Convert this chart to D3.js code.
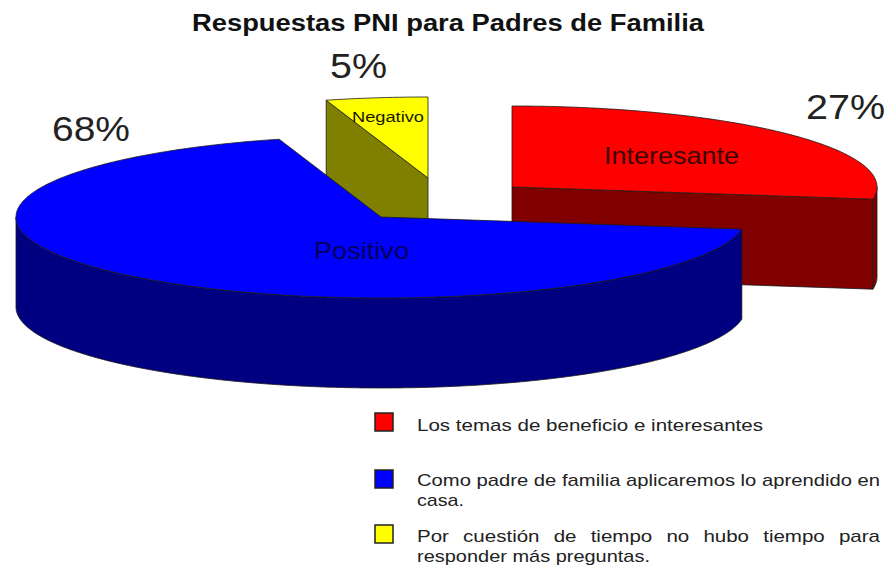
<!DOCTYPE html>
<html lang="es">
<head>
	<meta charset="utf-8">
	<title>Respuestas PNI</title>
	<script src="https://d3js.org/d3.v7.min.js"></script>
	<style type="text/css">
	body { margin: 0; background: #fff; }
	svg { display: block; font-family: "Liberation Sans", Arial, sans-serif; }
	</style>
</head>
<body>
	<svg id="chart" width="890" height="569"></svg>
	<script type="text/javascript">
	// data (order is clockwise from 12 o'clock)
	const categories = ["Interesante", "Positivo", "Negativo"]
	const values = [27.4, 68.1, 4.5]
	const percentLabels = ["27%", "68%", "5%"]
	const topColors = ["#ff0000", "#0000ff", "#ffff00"]
	const sideColors = ["#800000", "#000080", "#808000"]
	const labelColors = ["#3a0505", "#00005a", "#1a1a00"]
	const legendLines = [
		["Los temas de beneficio e interesantes"],
		["Como padre de familia aplicaremos lo aprendido en", "casa."],
		["Por cuestión de tiempo no hubo tiempo para", "responder más preguntas."]
	]

	// 3d look: ellipse radii + height of the wall
	const rx = 365, ry = 81, depth = 90
	const stroke = "#1a1a1a"

	const svg = d3.select("#chart")
	const color = d3.scaleOrdinal().domain(categories).range(topColors)
	const sideColor = d3.scaleOrdinal().domain(categories).range(sideColors)
	const slices = d3.pie().sort(null)(values)
	const line = d3.line()

	// where each exploded slice has its point
	const apex = {
		Interesante: { x: 512, y: 187 },
		Positivo: { x: 381, y: 217 },
		Negativo: { x: 428, y: 178 }
	}

	function rim(c, a, dz) {
		return [c.x + rx * Math.sin(a), c.y - ry * Math.cos(a) + (dz || 0)]
	}
	function arcPts(c, a0, a1, dz) {
		const n = Math.max(2, Math.ceil((a1 - a0) / 0.01))
		return d3.range(n + 1).map(i => rim(c, a0 + (a1 - a0) * i / n, dz))
	}
	function topPath(c, d) {
		return line([[c.x, c.y]].concat(arcPts(c, d.startAngle, d.endAngle))) + "Z"
	}
	function radialWall(c, a) {
		const p = rim(c, a)
		return line([[c.x, c.y], p, [p[0], p[1] + depth], [c.x, c.y + depth]]) + "Z"
	}
	function rimWall(c, a0, a1) {
		return line(arcPts(c, a0, a1).concat(arcPts(c, a0, a1, depth).reverse())) + "Z"
	}

	const g = svg.append("g")
	function shape(path, fill) {
		g.append("path").attr("d", path).attr("fill", fill)
			.attr("stroke", stroke).attr("stroke-width", 0.8).attr("stroke-linejoin", "round")
	}

	// back to front: yellow, red, blue
	const drawOrder = [2, 0, 1]
	drawOrder.forEach(i => {
		const d = slices[i], cat = categories[i], c = apex[cat]
		const side = sideColor(cat)
		if (cat === "Negativo") shape(radialWall(c, d.startAngle), side)
		if (cat === "Interesante") {
			shape(radialWall(c, d.endAngle), side)
			shape(rimWall(c, Math.PI / 2, d.endAngle), side)
		}
		if (cat === "Positivo") shape(rimWall(c, d.startAngle, Math.PI * 1.5), side)
		shape(topPath(c, d), color(cat))
	})

	// the source picture is stretched sideways, so text is fitted to its width
	function fitted(t, x, y, w, size, fill) {
		return svg.append("text").attr("x", x).attr("y", y)
			.attr("textLength", w).attr("lengthAdjust", "spacingAndGlyphs")
			.attr("font-size", size).attr("fill", fill).text(t)
	}

	// title
	fitted("Respuestas PNI para Padres de Familia", 192, 31, 512, 23.5, "#111").attr("font-weight", "bold")

	// text on the slices
	const nameX = [604, 314, 352], nameY = [164, 259, 122], nameW = [135, 95, 72], nameSize = [24, 24, 15.5]
	categories.forEach((cat, i) => {
		fitted(cat, nameX[i], nameY[i], nameW[i], nameSize[i], labelColors[i])
	})

	// percent labels
	const pctX = [806, 52, 330], pctY = [119, 141, 78], pctW = [79, 78, 57]
	percentLabels.forEach((t, i) => {
		fitted(t, pctX[i], pctY[i], pctW[i], 35, "#222")
	})

	// legend
	const boxY = [413, 470, 525]
	const lineY = [[431], [486, 506], [542, 562]]
	const lineW = [[346], [463, 47], [463, 233]]
	legendLines.forEach((lines, i) => {
		svg.append("rect").attr("x", 375).attr("y", boxY[i]).attr("width", 18).attr("height", 18)
			.attr("fill", color(categories[i])).attr("stroke", "#222").attr("stroke-width", 1.5)
		lines.forEach((t, j) => {
			const txt = fitted(t, 417, lineY[i][j], lineW[i][j], 17, "#222")
			if (i === 2 && j === 0) txt.style("word-spacing", "7px")
		})
	})
	</script>
</body>
</html>
